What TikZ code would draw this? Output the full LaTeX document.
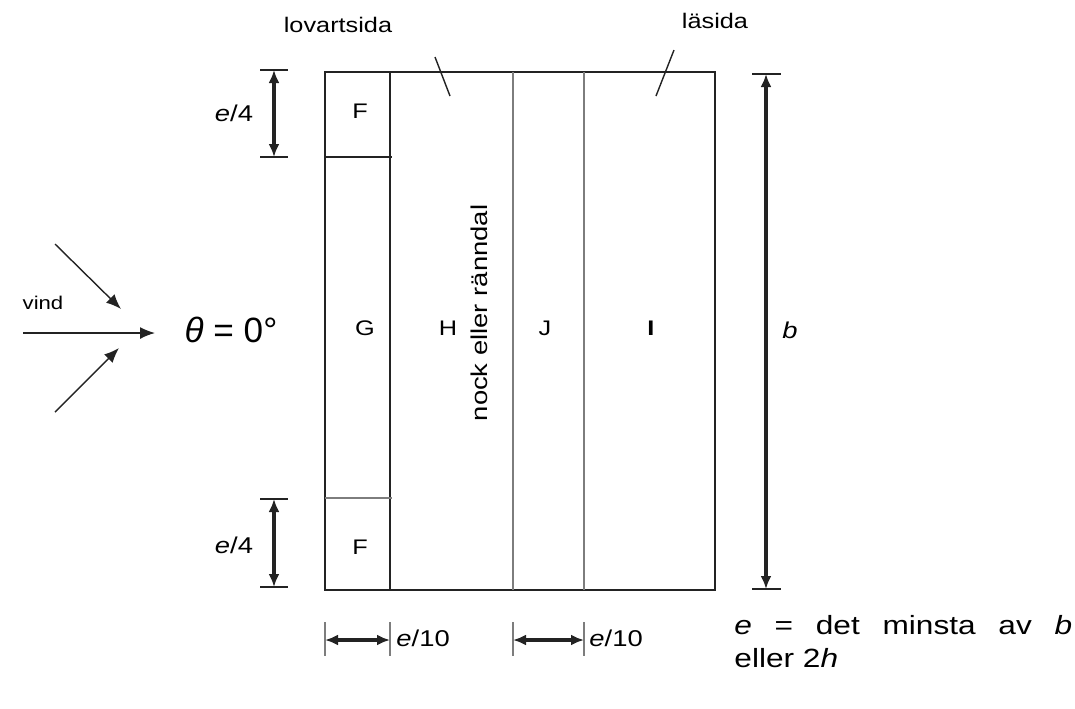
\documentclass[tikz,border=0pt]{standalone}
\usepackage{fontspec}
\setmainfont{Liberation Sans}
\usetikzlibrary{arrows.meta,positioning}
\definecolor{linegray}{RGB}{125,125,125}
\definecolor{inkgray}{RGB}{35,35,35}
\tikzset{
  zonelabel/.style={font=\fontsize{12}{14}\selectfont,inner sep=0pt,xscale=1.2},
  sidelabel/.style={font=\fontsize{12}{14}\selectfont,inner sep=0pt,xscale=1.2},
  dimlabel/.style={font=\fontsize{13}{15}\selectfont,inner sep=0pt,xscale=1.2},
  outline/.style={draw=inkgray,line width=0.8pt},
  zoneline/.style={draw=linegray,line width=0.8pt},
  dimarrow/.style={{Latex[length=2.6mm,width=2.2mm]}-{Latex[length=2.6mm,width=2.2mm]},
    line width=2.2pt,color=inkgray},
  dimtick/.style={draw=inkgray,line width=0.8pt},
  windarrow/.style={-{Latex[length=3mm,width=2.4mm]},line width=0.8pt,color=inkgray},
  leader/.style={line width=0.8pt,color=inkgray}
}

\begin{document}
\begin{tikzpicture}[x=0.02cm,y=-0.02cm]
  \useasboundingbox (0,0) rectangle (1075,708);

  % roof outline and zone borders
  \coordinate (nw) at (325,72);
  \coordinate (se) at (715,590);
  \draw[outline] (nw) rectangle (se);
  \draw[outline] (390,72) -- (390,590);
  \draw[outline] (325,157) -- (392,157);
  \draw[zoneline] (325,498) -- (392,498);
  \draw[zoneline] (513,72) -- (513,590);
  \draw[zoneline] (584,72) -- (584,590);

  % zones
  \node[zonelabel] (Ftop) at (360,111) {F};
  \node[zonelabel] (G)    at (365,328) {G};
  \node[zonelabel] (H)    at (448,328) {H};
  \node[zonelabel] (J)    at (545,328) {J};
  \node[zonelabel,font=\fontsize{12}{14}\selectfont\bfseries] (I) at (651,328) {I};
  \node[zonelabel] (Fbot) at (360,547) {F};
  \node[font=\fontsize{13}{15}\selectfont,inner sep=0pt,rotate=90,xscale=1.2]
    (ridge) at (479,313) {nock eller ränndal};

  % sides
  \node[sidelabel] (lov) at (338,25) {lovartsida};
  \node[sidelabel] (lae) at (715,21) {läsida};
  \coordinate (lovA) at (435,57);
  \coordinate (lovB) at (450,96);
  \coordinate (laeA) at (674,50);
  \coordinate (laeB) at (656,96);
  \draw[leader] (lovA) -- (lovB);
  \draw[leader] (laeA) -- (laeB);

  % wind
  \node[sidelabel,font=\fontsize{10.5}{12}\selectfont] (vind) at (43,303) {vind};
  \node[font=\fontsize{20}{24}\selectfont,inner sep=0pt] (theta)
    at (231,330) {\textit{θ} = 0°};
  \coordinate (w0) at (23,333);
  \coordinate (w1) at (155,333);
  \coordinate (u0) at (55,244);
  \coordinate (u1) at (121,309);
  \coordinate (d0) at (55,412);
  \coordinate (d1) at (119,348);
  \draw[windarrow] (w0) -- (w1);
  \draw[windarrow] (u0) -- (u1);
  \draw[windarrow] (d0) -- (d1);

  % e/4 dimensions
  \foreach \y in {70,157,499,587}
    \draw[dimtick] (260,\y) -- (288,\y);
  \coordinate (ea0) at (274,70);
  \coordinate (ea1) at (274,157);
  \coordinate (eb0) at (274,499);
  \coordinate (eb1) at (274,587);
  \draw[dimarrow] (ea0) -- (ea1);
  \draw[dimarrow] (eb0) -- (eb1);
  \node[dimlabel] (e4top) at (234,113) {\textit{e}/4};
  \node[dimlabel] (e4bot) at (234,545) {\textit{e}/4};

  % b dimension
  \draw[dimtick] (752,74) -- (781,74);
  \draw[dimtick] (752,589) -- (781,589);
  \coordinate (b0) at (766,74);
  \coordinate (b1) at (766,589);
  \draw[dimarrow] (b0) -- (b1);
  \node[dimlabel] (blab) at (790,330) {\textit{b}};

  % e/10 dimensions
  \foreach \x in {325,390,513,584}
    \draw[zoneline] (\x,622) -- (\x,656);
  \coordinate (ec0) at (325,640);
  \coordinate (ec1) at (390,640);
  \coordinate (ed0) at (513,640);
  \coordinate (ed1) at (584,640);
  \draw[dimarrow] (ec0) -- (ec1);
  \draw[dimarrow] (ed0) -- (ed1);
  \node[dimlabel,anchor=west] (e10a) at (396,638) {\textit{e}/10};
  \node[dimlabel,anchor=west] (e10b) at (589,638) {\textit{e}/10};

  % note
  \node[font=\fontsize{15}{19}\selectfont,inner sep=0pt,xscale=1.2,
    anchor=north west,text width=5.63cm,align=justify]
    (note) at (734,615)
    {\textit{e} \hfill = \hfill det \hfill minsta \hfill av \hfill \textit{b}\\
     eller 2\textit{h}};
\end{tikzpicture}
\end{document}
